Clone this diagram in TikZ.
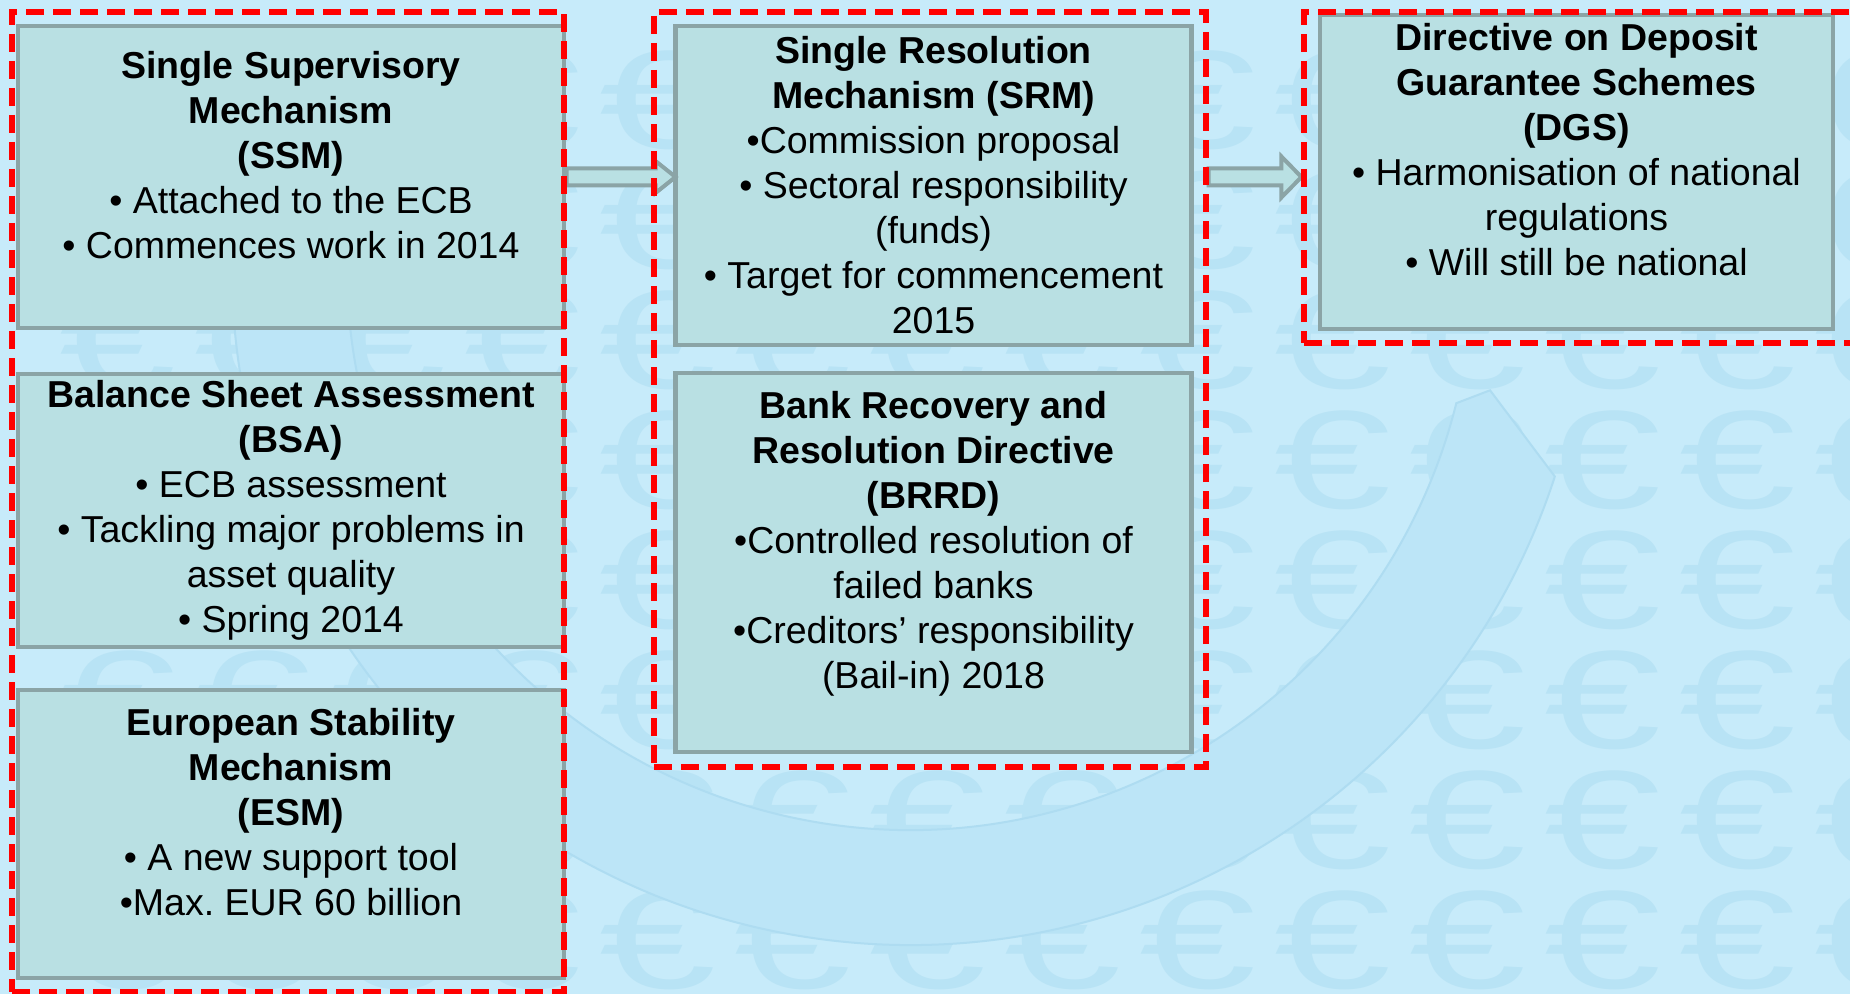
\documentclass[tikz,border=0pt]{standalone}
\usepackage{fontspec}
\setmainfont{Liberation Sans}
\usepackage{graphicx}
\usetikzlibrary{positioning,fit,calc}

\definecolor{slidebg}{RGB}{199,235,250}
\definecolor{eurotint}{RGB}{184,227,245}
\definecolor{swoosh}{RGB}{188,229,247}
\definecolor{swooshedge}{RGB}{174,220,241}
\definecolor{boxfill}{RGB}{185,224,227}
\definecolor{boxline}{RGB}{139,164,166}
\definecolor{groupred}{RGB}{255,0,0}

\pgfdeclarelayer{front}
\pgfsetlayers{main,front}

% hollow block arrow: tail, tip, half width of the head
\newcommand{\fatarrow}[3]{%
  \draw[fat arrow] ($(#1)+(0,4.25pt)$) -- ($(#2)+(-10pt,4.25pt)$) -- ($(#2)+(-10pt,#3)$)
    -- (#2) -- ($(#2)+(-10pt,-#3)$) -- ($(#2)+(-10pt,-4.25pt)$) -- ($(#1)+(0,-4.25pt)$) -- cycle;}

\begin{document}
\begin{tikzpicture}[
    panel/.style={draw=boxline, fill=boxfill, line width=2.2pt, align=center,
      inner sep=0pt, outer sep=0pt, font=\fontsize{18.75pt}{22.5pt}\selectfont},
    group/.style={draw=groupred, line width=2.6pt, dash pattern=on 9pt off 4.5pt,
      inner sep=0pt},
    fat arrow/.style={draw=boxline, fill=boxfill, line width=2pt, line join=miter},
    euro/.style={text=eurotint, font=\fontsize{70pt}{70pt}\selectfont, inner sep=0pt}]

        \useasboundingbox (0,0) rectangle (925pt,-497pt);
        \fill[slidebg] (0,0) rectangle (925pt,-497pt);

        % Euro pattern and the big swoosh behind everything
        \foreach \col in {0,...,13}
            \foreach \row in {0,...,7}
                \node[euro] (euro-\col-\row) at (59pt+67.5pt*\col, -50pt-60pt*\row)
                    {\scalebox{1.5}[1]{€}};

        \coordinate (hub) at (455pt,-133.5pt);
        \fill[swoosh, draw=swooshedge, line width=1pt]
            ($(hub)+(170:339pt)$) arc[start angle=170, end angle=342, radius=339pt]
            -- ($(hub)+(348:296.5pt)$) -- ($(hub)+(346:281.5pt)$)
            arc[start angle=346, end angle=170, radius=281.5pt] -- cycle;

        % Define boxes
        \node[panel, minimum width=273pt, minimum height=151pt] (ssm) at (145.5pt,-88.5pt)
            {\textbf{Single Supervisory}\\ \textbf{Mechanism}\\ \textbf{(SSM)}\\
             • Attached to the ECB\\ • Commences work in 2014\\ \mbox{}};
        \node[panel, minimum width=273pt, minimum height=136.5pt] (bsa)
            [below of=ssm, node distance=166.75pt]
            {\textbf{Balance Sheet Assessment}\\ \textbf{(BSA)}\\ • ECB assessment\\
             • Tackling major problems in\\ asset quality\\ • Spring 2014};
        \node[panel, minimum width=273pt, minimum height=144pt] (esm)
            [below of=bsa, node distance=161.75pt]
            {\textbf{European Stability}\\ \textbf{Mechanism}\\ \textbf{(ESM)}\\
             • A new support tool\\ •Max.\ EUR 60 billion\\ \mbox{}};
        \node[panel, minimum width=258pt, minimum height=159.5pt] (srm)
            [right of=ssm, node distance=321.25pt, yshift=-4.25pt]
            {\textbf{Single Resolution}\\ \textbf{Mechanism (SRM)}\\ •Commission proposal\\
             • Sectoral responsibility\\ (funds)\\ • Target for commencement\\ 2015};
        \node[panel, minimum width=258pt, minimum height=189.5pt] (brrd)
            [below of=srm, node distance=188.5pt]
            {\textbf{Bank Recovery and}\\ \textbf{Resolution Directive}\\ \textbf{(BRRD)}\\
             •Controlled resolution of\\ failed banks\\ •Creditors’ responsibility\\
             (Bail-in) 2018\\ \mbox{}};
        \node[panel, minimum width=256.5pt, minimum height=157pt] (dgs)
            [right of=srm, node distance=321.5pt, yshift=6.75pt]
            {\textbf{Directive on Deposit}\\ \textbf{Guarantee Schemes}\\ \textbf{(DGS)}\\
             • Harmonisation of national\\ regulations\\ • Will still be national\\ \mbox{}};

        % Red frames round each stage
        \begin{pgfonlayer}{front}
            \coordinate (sup nw) at ($(ssm.north west)+(-3pt,7pt)$);
            \coordinate (sup se) at ($(esm.south east)+(0pt,-7pt)$);
            \coordinate (res nw) at ($(srm.north west)+(-10.75pt,7pt)$);
            \coordinate (res se) at ($(brrd.south east)+(7.25pt,-7.5pt)$);
            \coordinate (dep nw) at ($(dgs.north west)+(-8pt,1.5pt)$);
            \coordinate (dep se) at ($(dgs.south east)+(18.5pt,-7pt)$);
            \node[group, fit=(sup nw)(sup se)] (supervision) {};
            \node[group, fit=(res nw)(res se)] (resolution) {};
            \node[group, fit=(dep nw)(dep se)] (deposit) {};
        \end{pgfonlayer}

        % Draw arrows
        \coordinate (a1 tail) at (supervision.east |- ssm.east);
        \coordinate (a1 tip) at (srm.west |- ssm.east);
        \coordinate (a2 tail) at (resolution.east |- ssm.east);
        \coordinate (a2 tip) at (deposit.west |- ssm.east);
        \fatarrow{a1 tail}{a1 tip}{8pt}
        \fatarrow{a2 tail}{a2 tip}{10.25pt}

\end{tikzpicture}
\end{document}
